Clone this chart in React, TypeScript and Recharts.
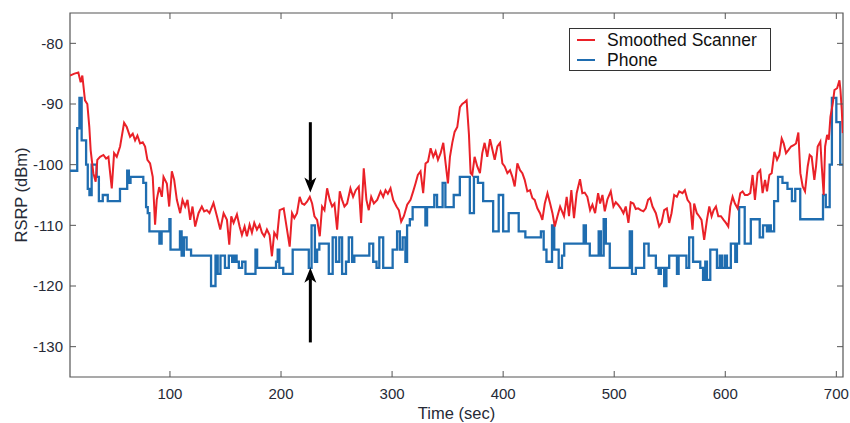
import React from 'react';
import { LineChart, Line, XAxis, YAxis, ReferenceArea, ReferenceLine, ReferenceDot, Legend } from 'recharts';

// Smoothed scanner RSRP [time (s), dBm]
const scannerPoints: number[][] = [
  [10, -85.3], [14, -85.0], [17.5, -84.8], [19.6, -86.4], [21.1, -85.3], [23.5, -89.4], [25.6, -90], [27.4, -93.8],
  [28.6, -97.6], [31, -101.4], [33.1, -102.8], [34.6, -99.2], [37.1, -98.7], [40.1, -98.4], [42.5, -99], [44.6, -98.7],
  [47.6, -103.9], [49.7, -98.1], [52.1, -98.7], [55.1, -97], [58.7, -93.1], [61.1, -93.8], [64.1, -95.4], [66.5, -94.9],
  [68.6, -96], [70.7, -95.2], [73.1, -96.5], [75.5, -96.3], [77.6, -97], [79.7, -99.2], [82.1, -99.8], [84.5, -102],
  [86.6, -109.9], [88.1, -105.8], [90.3, -103.7], [92.7, -105.3], [94.2, -102], [97.2, -103.1], [99.3, -106.9], [101.7, -101.1],
  [103.8, -102.5], [106.2, -105.8], [109.2, -108], [111.3, -105.8], [113.7, -106.9], [115.8, -105.8], [118.2, -109.1], [120.3, -106.9],
  [122.7, -110.2], [125.7, -108], [128.7, -106.9], [130.8, -107.7], [133.2, -107.5], [135.6, -108], [139.2, -106.3], [142.3, -108.5],
  [145.3, -110.7], [148.3, -108], [151.3, -109.1], [153.4, -113.2], [155.2, -108.5], [157.3, -109.6], [160.3, -108.2], [162.7, -110.2],
  [164.8, -111.6], [167.2, -110.2], [169.3, -111.8], [171.7, -109.9], [173.8, -111.2], [175.9, -109.6], [178.3, -110.7], [180.7, -109.9],
  [182.8, -111.2], [184.9, -111.8], [187.3, -110.7], [189.7, -111.6], [191.8, -115.1], [193.9, -111.2], [196.4, -112], [198.8, -107.5],
  [202.4, -107.2], [205.4, -110.7], [207.8, -113.5], [209.9, -108], [212, -108.8], [214.4, -108], [216.8, -105.3], [218.9, -106.4],
  [221, -106.6], [223.4, -106.1], [225.9, -105.3], [228, -106.4], [230.1, -108.5], [232.5, -109.1], [234.9, -111.8], [237, -106.9],
  [239.1, -107.5], [241.5, -103.9], [243.9, -105.8], [246, -106.9], [248.1, -106.4], [250.5, -110.7], [252.9, -104.4], [255, -105.8],
  [257.1, -106.9], [259.5, -106.4], [262.5, -103.9], [264.9, -105.3], [267.3, -104.2], [270, -103.6], [272.1, -109.6], [274.5, -100.6],
  [276.9, -105.8], [279, -107.5], [281.2, -105.3], [283.6, -106.4], [286.6, -105.8], [289.6, -104.4], [292, -105.3], [294.1, -104.2],
  [296.2, -104.8], [298.6, -103.9], [301, -105.8], [304, -106.9], [306.1, -107.5], [308.2, -109.4], [310.6, -108.5], [313.6, -106.6],
  [316.6, -105.8], [319, -104.4], [321.1, -103.1], [323.2, -101.7], [325.6, -101.1], [328, -104.7], [330.1, -99.8], [332.3, -99.5],
  [334.7, -97.3], [337.1, -98.7], [339.2, -97.8], [341.3, -99.2], [343.7, -98.1], [346.1, -96.4], [348.2, -99.8], [350.3, -103.1],
  [352.1, -98.7], [354.2, -96.4], [356.3, -94.6], [358.7, -93.8], [361.1, -90.5], [363.2, -90], [365.3, -89.7], [367.1, -89.4],
  [369.2, -95], [370.7, -101.4], [372.2, -101.7], [374.3, -98.7], [376.7, -100.3], [379.1, -101.4], [381.2, -98.1], [383.3, -96.4],
  [385.7, -98.7], [388.2, -95.8], [390.3, -97.5], [392.4, -99.2], [394.8, -97], [397.2, -96.4], [399.3, -99.8], [401.4, -100.3],
  [403.8, -101.4], [406.2, -100.9], [408.3, -102], [410.4, -103.6], [412.8, -99.8], [415.2, -100.9], [417.3, -101.4], [419.4, -102.5],
  [421.8, -104.4], [424.2, -104.2], [426.3, -105.5], [428.4, -105.8], [430.8, -107.2], [433.2, -108], [435.3, -109.1], [437.5, -106.4],
  [439.9, -104.7], [442.3, -106.4], [444.4, -108], [446.5, -110.2], [448.9, -108.5], [451.3, -106.9], [454.8, -108.5], [457.2, -105.3],
  [459.3, -108.5], [461.4, -104.2], [463.8, -108.8], [466.2, -104.7], [469.2, -102.4], [471.3, -104.7], [473.4, -104.6], [475.8, -105.3],
  [478.3, -107.5], [480.4, -106.6], [482.8, -108], [485.5, -104.7], [487.3, -106.4], [489.4, -105], [491.5, -107.7], [493.9, -105.7],
  [496.9, -104.4], [499.3, -106.9], [501.4, -106.2], [503.5, -106.6], [505.9, -107.2], [508.3, -108], [510.4, -106.9], [512.8, -109.6],
  [514.9, -106.2], [517.3, -106.4], [519.4, -107.3], [521.5, -107.2], [523.9, -107.5], [526.3, -107.7], [528.4, -107.2], [530.5, -105.8],
  [532.4, -105.5], [534.5, -106.9], [537.5, -108], [540.5, -110.2], [542.6, -109.6], [545, -107.5], [547.4, -107.2], [549.5, -109.6],
  [551.6, -108], [554, -105], [556.4, -105.3], [558.5, -104.4], [561.5, -104.7], [563.6, -104.2], [566, -105.8], [568.4, -106.4],
  [570.5, -110.7], [572, -106.4], [574.4, -108], [576.5, -108.5], [578.6, -109.1], [581, -112.4], [583.5, -109.1], [585.6, -106.9],
  [587.7, -108.5], [589.5, -107.5], [591.6, -106.9], [593.7, -108.5], [596.1, -108.5], [598.5, -109.1], [600.6, -109.6], [602.7, -110.2],
  [604.5, -106.9], [606.6, -105.3], [608.7, -106.4], [611.1, -107.2], [613.5, -104.7], [615.6, -104.4], [617.7, -105], [620.1, -105],
  [622.5, -104.7], [624.6, -101.7], [626.7, -105.8], [629.1, -101.4], [631.5, -100.9], [633.6, -104.7], [635.8, -102.5], [637.6, -104.4],
  [639.7, -101.7], [641.8, -101.4], [644.2, -97.9], [646.6, -99.2], [648.7, -98.4], [650.8, -95.7], [652.6, -96.5], [654.7, -98.1],
  [656.8, -97.6], [659.2, -97], [661.6, -96.8], [663.7, -96.5], [665.8, -94.7], [667.6, -101.4], [669.7, -103.6], [671.8, -104.4],
  [674.2, -100.3], [676, -98.4], [677.8, -98.7], [680.2, -102.5], [681.7, -100.3], [683.2, -97], [685.6, -96.2], [686.9, -100.3],
  [688.6, -105], [689.9, -97], [691.7, -95.1], [693.2, -95.9], [694.7, -92.1], [696.8, -89.9], [698.3, -87.7], [700.7, -87.4],
  [702.8, -86.1], [703.7, -87.7], [704.9, -91], [705.8, -94.8],
];

// Phone RSRP, step changes [time (s), dBm]
const phonePoints: number[][] = [
  [10, -101], [16.5, -94], [18.5, -89], [20.5, -96], [24.5, -100], [26, -104], [27.5, -105], [29.5, -100],
  [34, -102], [36, -106], [39.5, -105], [44, -106], [55, -104], [61.5, -101], [63, -103], [64.5, -102],
  [76, -103], [78.5, -107], [80, -108], [81.5, -111], [90.5, -113], [92.5, -111], [99.5, -109], [100.5, -114],
  [109, -111], [110.5, -115], [112.5, -112], [115, -114], [119, -115], [137, -120], [141, -115], [143, -118],
  [145.5, -115], [149.5, -117], [153, -115], [156, -116], [158, -115], [160, -116], [162, -117], [165, -116],
  [168, -118], [177, -114], [178.5, -117], [195.5, -116], [197, -114], [198.5, -117], [202, -118], [210.5, -114],
  [225, -117], [227.5, -110], [230.5, -116], [232.5, -114], [234.5, -113], [243, -118], [246.5, -112], [249.5, -116],
  [252.5, -112], [255, -118], [258.5, -116], [261, -112], [264, -116], [266, -115], [279.5, -113], [283, -116],
  [286, -117], [288.5, -112], [292, -117], [300.5, -114], [304.5, -111], [307, -114], [309.5, -112], [312, -116],
  [313.5, -110], [316, -109], [318.5, -107], [330, -110], [331.5, -107], [338, -105], [340.5, -107], [345.5, -103],
  [348, -107], [355.5, -105], [361, -102], [370, -108], [373.7, -102], [377.3, -103], [382, -106], [391, -111],
  [396, -105], [400, -111], [405, -108], [414, -111], [420, -112], [434, -111], [436.5, -114], [439, -116],
  [444, -110], [446, -114], [450, -117], [453, -115], [455, -113], [472.5, -110], [474.5, -113], [478, -115],
  [486, -111], [488, -115], [490.5, -109], [492.5, -113], [496, -117], [514, -111], [516, -118], [519.5, -117],
  [527, -113], [531, -115], [537.5, -117], [540, -118], [542, -117], [545, -120], [547, -117], [549.5, -115],
  [556.5, -118], [558, -115], [565, -117], [567.5, -112], [571, -116], [577.5, -117], [580, -119], [582, -116],
  [583.5, -119], [586.5, -114], [592.5, -117], [595, -115], [597, -117], [599.5, -115], [601.5, -117], [605, -113],
  [609, -116], [610.5, -113], [612.5, -107], [617.5, -113], [623, -109], [631, -112], [634, -110], [637.5, -111],
  [639.5, -110], [641, -111], [644, -106], [647.5, -102], [651.5, -103], [656, -104], [660, -106], [663, -104],
  [667.5, -109], [688, -105], [690.5, -107], [694, -100], [696, -89], [700, -93], [703.5, -100], [706, -100],
];

const X_DOMAIN = [10, 706];
const Y_DOMAIN = [-135, -75];
const X_TICKS = [100, 200, 300, 400, 500, 600, 700];
const Y_TICKS = [-130, -120, -110, -100, -90, -80];

// arrows marking t ~ 226 s
const ARROW_T = 226.4;
const DOWN_ARROW = [-93, -104.6];
const UP_ARROW = [-129.3, -117];

const SERIES = [
  { name: 'Smoothed Scanner', color: '#ea2128' },
  { name: 'Phone', color: '#1f6db0' },
];

// page is 850x423; chart sits 8px in from the top-left like the default body margin
const PAD = 8;
const W = 842;
const H = 415;
const MARGIN = { top: 5, right: 7, left: 0, bottom: 0 };
const Y_AXIS_W = 62;
const X_AXIS_H = 46;
const PLOT_TOP = MARGIN.top;
const PLOT_BOTTOM = H - MARGIN.bottom - X_AXIS_H;
const PLOT_LEFT = MARGIN.left + Y_AXIS_W;
const PLOT_RIGHT = W - MARGIN.right;

const AXIS = '#555';
const TEXT = '#262a36';
const FONT = '"Liberation Sans", Arial, sans-serif';

const scannerData = scannerPoints.map(([t, v]) => ({ t, v }));
const phoneData = phonePoints.map(([t, v]) => ({ t, v }));

// ticks point inward on all four sides
const XTick = ({ x, payload }: any) => (
  <g>
    <line x1={x} x2={x} y1={PLOT_BOTTOM} y2={PLOT_BOTTOM - 6} stroke={AXIS} />
    <line x1={x} x2={x} y1={PLOT_TOP} y2={PLOT_TOP + 6} stroke={AXIS} />
    <text x={x} y={PLOT_BOTTOM + 22} textAnchor="middle" fill={TEXT} fontSize={15} fontFamily={FONT}>
      {payload.value}
    </text>
  </g>
);

const YTick = ({ y, payload }: any) => (
  <g>
    <line x1={PLOT_LEFT} x2={PLOT_LEFT + 6} y1={y} y2={y} stroke={AXIS} />
    <line x1={PLOT_RIGHT} x2={PLOT_RIGHT - 6} y1={y} y2={y} stroke={AXIS} />
    <text x={PLOT_LEFT - 7} y={y} dy="0.35em" textAnchor="end" fill={TEXT} fontSize={15} fontFamily={FONT}>
      {payload.value}
    </text>
  </g>
);

const arrowHead = (dir: number) => (p: any) => (
  <path
    d={`M${p.cx},${p.cy} L${p.cx - 6},${p.cy - dir * 15} L${p.cx},${p.cy - dir * 11} L${p.cx + 6},${p.cy - dir * 15} Z`}
    fill="#000"
  />
);

const LegendBox = () => (
  <div
    style={{
      width: 202,
      height: 43,
      boxSizing: 'border-box',
      border: '1.5px solid #333',
      background: '#fff',
      paddingTop: 0.5,
      fontFamily: FONT,
      fontSize: 17.5,
      color: '#111',
    }}
  >
    {SERIES.map((s) => (
      <div key={s.name} style={{ display: 'flex', alignItems: 'center', height: 20.5, whiteSpace: 'nowrap' }}>
        <span style={{ width: 18, height: 2, background: s.color, margin: '0 12px 0 7px' }} />
        <span style={{ lineHeight: '18px' }}>{s.name}</span>
      </div>
    ))}
  </div>
);

export default function App() {
  return (
    <>
      <style>{'html, body { margin: 0; padding: 0; background: #fff; }'}</style>
      <div style={{ width: W + PAD, height: H + PAD, paddingLeft: PAD, paddingTop: PAD, background: '#fff' }}>
        <LineChart width={W} height={H} margin={MARGIN}>
          <XAxis
            dataKey="t"
            type="number"
            domain={X_DOMAIN}
            ticks={X_TICKS}
            interval={0}
            allowDataOverflow
            height={X_AXIS_H}
            tickSize={0}
            tickLine={false}
            axisLine={false}
            tick={XTick}
            label={{ value: 'Time (sec)', position: 'insideBottom', offset: 4, fill: TEXT, fontSize: 16.5, fontFamily: FONT }}
          />
          <YAxis
            type="number"
            domain={Y_DOMAIN}
            ticks={Y_TICKS}
            interval={0}
            allowDataOverflow
            width={Y_AXIS_W}
            tickSize={0}
            tickLine={false}
            axisLine={false}
            tick={YTick}
            label={{
              value: 'RSRP (dBm)',
              angle: -90,
              position: 'insideLeft',
              offset: 13,
              fill: TEXT,
              fontSize: 16.5,
              fontFamily: FONT,
              style: { textAnchor: 'middle' },
            }}
          />
          <ReferenceArea x1={X_DOMAIN[0]} x2={X_DOMAIN[1]} y1={Y_DOMAIN[0]} y2={Y_DOMAIN[1]} fill="none" stroke={AXIS} strokeWidth={1.2} />
          <Legend
            layout="horizontal"
            verticalAlign="middle"
            align="center"
            content={LegendBox}
            wrapperStyle={{ position: 'absolute', left: 561, top: 20, width: 202, height: 43 }}
          />
          <Line
            data={phoneData}
            dataKey="v"
            name="Phone"
            type="stepAfter"
            stroke={SERIES[1].color}
            strokeWidth={2.3}
            dot={false}
            isAnimationActive={false}
          />
          <Line
            data={scannerData}
            dataKey="v"
            name="Smoothed Scanner"
            type="linear"
            stroke={SERIES[0].color}
            strokeWidth={2}
            dot={false}
            isAnimationActive={false}
          />
          <ReferenceLine
            segment={[{ x: ARROW_T, y: DOWN_ARROW[0] }, { x: ARROW_T, y: DOWN_ARROW[1] + 1.8 }]}
            stroke="#000"
            strokeWidth={3}
          />
          <ReferenceDot x={ARROW_T} y={DOWN_ARROW[1]} r={0} shape={arrowHead(1)} />
          <ReferenceLine
            segment={[{ x: ARROW_T, y: UP_ARROW[0] }, { x: ARROW_T, y: UP_ARROW[1] - 1.8 }]}
            stroke="#000"
            strokeWidth={3}
          />
          <ReferenceDot x={ARROW_T} y={UP_ARROW[1]} r={0} shape={arrowHead(-1)} />
        </LineChart>
      </div>
    </>
  );
}
